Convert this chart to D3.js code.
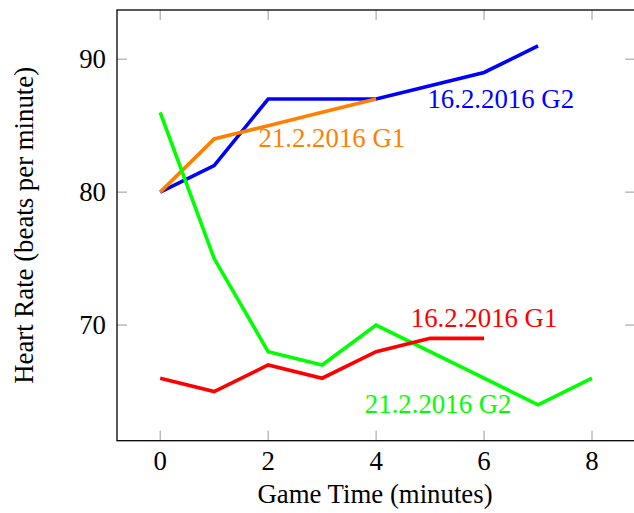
<!DOCTYPE html>
<html>
<head>
<meta charset="utf-8">
<script src="https://cdn.jsdelivr.net/npm/d3@7/dist/d3.min.js"></script>
<style>
  html, body { margin: 0; padding: 0; background: #fff; }
  svg { display: block; }
  text { font-family: "Liberation Serif", "Times New Roman", serif; }
</style>
</head>
<body>
<svg id="chart" width="634" height="513"></svg>
<script>
// Heart rate over game time for four game sessions
const minutes = [0, 1, 2, 3, 4, 5, 6, 7, 8];
const g2_16 = [80, 82, 87, 87, 87, 88, 89, 91];        // 16.2.2016 G2
const g1_21 = [80, 84, 85, 86, 87];                    // 21.2.2016 G1
const g2_21 = [86, 75, 68, 67, 70, 68, 66, 64, 66];    // 21.2.2016 G2
const g1_16 = [66, 65, 67, 66, 68, 69, 69];            // 16.2.2016 G1

const xTicks = [0, 2, 4, 6, 8];
const yTicks = [70, 80, 90];

const seriesNames = ["16.2.2016 G2", "21.2.2016 G1", "21.2.2016 G2", "16.2.2016 G1"];
const seriesColors = ["#0000ff", "#ff8000", "#00ff00", "#ff0000"];
const seriesValues = [g2_16, g1_21, g2_21, g1_16];
// Label anchor in data coordinates (centre of text, baseline)
const labelAt = [[6.31, 86.3], [3.18, 83.4], [5.15, 63.4], [6.0, 69.85]];

const svg = d3.select("#chart");
const plotL = 117, plotR = 635.2, plotT = 10, plotB = 440.7;

const x = d3.scaleLinear().domain([-0.8, 8.8]).range([plotL, plotR]);
const y = d3.scaleLinear().domain([61.3, 93.7]).range([plotB, plotT]);

const fontSize = 26.8;
const tickLen = 10;

// Tick marks pointing inward on all four sides
const tickColor = "#9a9a9a";
const tg = svg.append("g");
xTicks.forEach(t => {
  tg.append("line").attr("x1", x(t)).attr("x2", x(t)).attr("y1", plotB).attr("y2", plotB - tickLen)
    .attr("stroke", tickColor).attr("stroke-width", 1);
  tg.append("line").attr("x1", x(t)).attr("x2", x(t)).attr("y1", plotT).attr("y2", plotT + tickLen)
    .attr("stroke", tickColor).attr("stroke-width", 1);
});
yTicks.forEach(t => {
  tg.append("line").attr("x1", plotL).attr("x2", plotL + tickLen).attr("y1", y(t)).attr("y2", y(t))
    .attr("stroke", tickColor).attr("stroke-width", 1);
  tg.append("line").attr("x1", plotR).attr("x2", plotR - tickLen).attr("y1", y(t)).attr("y2", y(t))
    .attr("stroke", tickColor).attr("stroke-width", 1);
});

// Series lines
const line = d3.line().x((d, i) => x(minutes[i])).y(d => y(d));
seriesValues.forEach((vals, k) => {
  svg.append("path")
    .datum(vals)
    .attr("d", line)
    .attr("fill", "none")
    .attr("stroke", seriesColors[k])
    .attr("stroke-width", 3.6)
    .attr("stroke-linejoin", "miter");
});

// Series labels
seriesNames.forEach((name, k) => {
  svg.append("text")
    .attr("x", x(labelAt[k][0]))
    .attr("y", y(labelAt[k][1]))
    .attr("text-anchor", "middle")
    .attr("font-size", fontSize)
    .attr("fill", seriesColors[k])
    .text(name);
});

// Frame
svg.append("rect")
  .attr("x", plotL).attr("y", plotT)
  .attr("width", plotR - plotL).attr("height", plotB - plotT)
  .attr("fill", "none").attr("stroke", "#000").attr("stroke-width", 1.3);

// Tick labels
xTicks.forEach(t => {
  svg.append("text")
    .attr("x", x(t)).attr("y", 470)
    .attr("text-anchor", "middle")
    .attr("font-size", fontSize)
    .text(t);
});
yTicks.forEach(t => {
  svg.append("text")
    .attr("x", 106).attr("y", y(t) + 9)
    .attr("text-anchor", "end")
    .attr("font-size", fontSize)
    .text(t);
});

// Axis titles
svg.append("text")
  .attr("x", (plotL + 634) / 2 - 0.5).attr("y", 503)
  .attr("text-anchor", "middle")
  .attr("font-size", fontSize)
  .text("Game Time (minutes)");

svg.append("text")
  .attr("transform", `translate(33, ${(plotT + plotB) / 2}) rotate(-90)`)
  .attr("text-anchor", "middle")
  .attr("font-size", fontSize)
  .text("Heart Rate (beats per minute)");
</script>
</body>
</html>
